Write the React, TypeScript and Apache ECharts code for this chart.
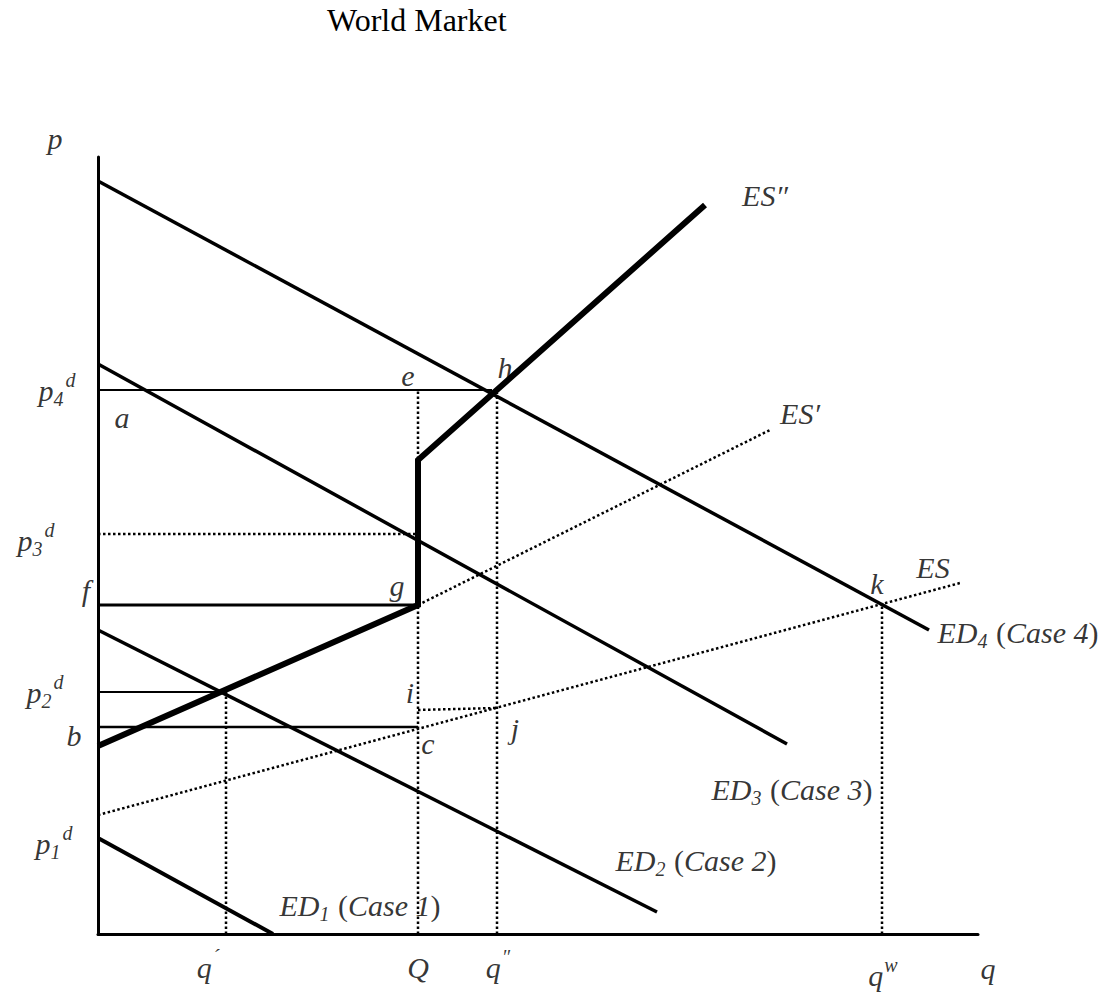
import React, { useEffect, useRef } from "react";
import * as echarts from "echarts";

// Coordinates: q to the right of the price axis, p above the quantity axis (diagram units)
const ed4 = [[0, 753], [831, 304]];
const ed3 = [[0, 570], [689, 190]];
const ed2 = [[0, 304], [559, 22]];
const ed1 = [[0, 96], [175, 0]];
const esDoublePrime = [[0, 188], [320, 329], [320, 474], [607, 729]];
const esPrime = [[320, 329], [672, 504]];
const es = [[0, 119], [862, 351]];

const lineP4 = [[0, 544], [394, 544]];
const lineP3 = [[0, 400], [320, 400]];
const lineF = [[0, 329], [320, 329]];
const lineP2 = [[0, 242], [128, 242]];
const lineB = [[0, 207], [320, 207]];
const lineI = [[320, 224], [399, 226]];

const dropQPrime = [[128, 0], [128, 242]];
const dropQ = [[320, 0], [320, 544]];
const dropQDouble = [[399, 0], [399, 541]];
const dropQW = [[784, 0], [784, 331]];

const labelTexts = [
  "{i|p}",
  "{i|p}{sub|4}{sup|d}",
  "{i|a}",
  "{i|p}{sub|3}{sup|d}",
  "{i|f}",
  "{i|p}{sub|2}{sup|d}",
  "{i|b}",
  "{i|p}{sub|1}{sup|d}",
  "{i|e}",
  "{i|h}",
  "{i|ES″}",
  "{i|ES′}",
  "{i|ES}",
  "{i|k}",
  "{i|g}",
  "{i|i}",
  "{i|c}",
  "{i|j}",
  "{i|ED}{sub|4}{n| (}{i|Case 4}{n|)}",
  "{i|ED}{sub|3}{n| (}{i|Case 3}{n|)}",
  "{i|ED}{sub|2}{n| (}{i|Case 2}{n|)}",
  "{i|ED}{sub|1}{n| (}{i|Case 1}{n|)}",
  "{i|q}{sup|´}",
  "{i|Q}",
  "{i|q}{sup|″}",
  "{i|q}{sup|w}",
  "{i|q}",
];
const labelX = [-43, -41, 24, -62, -12, -53, -24, -44, 310, 407, 667, 702, 835, 779, 299, 312, 330, 417, 920, 694, 598, 262, 110, 320, 400, 785, 890];
const labelY = [796, 544, 517, 394, 344, 242, 199, 91, 559, 567, 739, 521, 367, 351, 349, 242, 191, 206, 302, 145, 74, 29, -33, -33, -33, -41, -34];

const App: React.FC = () => {
  const ref = useRef<HTMLDivElement>(null);
  useEffect(() => {
    document.body.style.margin = "0";
    if (!ref.current) return;
    const chart = echarts.init(ref.current, null, { renderer: "svg" });
    const solid = (name: string, data: number[][], width: number) => ({
      name,
      type: "line",
      data,
      symbol: "none",
      silent: true,
      lineStyle: { color: "#000", width, type: "solid", cap: "butt", join: "miter" },
      z: 3,
    });
    const dotted = (name: string, data: number[][], width: number) => ({
      name,
      type: "line",
      data,
      symbol: "none",
      silent: true,
      lineStyle: { color: "#000", width, type: [2.5, 2.5] },
      z: 2,
    });
    const fontFamily = "'Liberation Serif', 'Times New Roman', serif";
    chart.setOption({
      animation: false,
      title: {
        text: "World Market",
        left: 322,
        top: -1,
        textStyle: { fontFamily, fontSize: 32, fontWeight: "normal", color: "#000" },
      },
      grid: { left: 98, top: 157, width: 880, height: 777 },
      xAxis: {
        type: "value",
        min: 0,
        max: 880,
        axisLine: { show: true, lineStyle: { color: "#000", width: 3 } },
        axisTick: { show: false },
        axisLabel: { show: false },
        splitLine: { show: false },
      },
      yAxis: {
        type: "value",
        min: 0,
        max: 777,
        axisLine: { show: true, lineStyle: { color: "#000", width: 3 } },
        axisTick: { show: false },
        axisLabel: { show: false },
        splitLine: { show: false },
      },
      series: [
        solid("ED4", ed4, 3.5),
        solid("ED3", ed3, 3.5),
        solid("ED2", ed2, 3.5),
        solid("ED1", ed1, 4),
        solid("ES''", esDoublePrime, 6),
        dotted("ES'", esPrime, 2.5),
        dotted("ES", es, 2.5),
        solid("p4", lineP4, 2),
        dotted("p3", lineP3, 2.5),
        solid("f", lineF, 3),
        solid("p2", lineP2, 2),
        solid("b", lineB, 2.5),
        dotted("i", lineI, 2.5),
        dotted("q'", dropQPrime, 2.5),
        dotted("Q", dropQ, 2.5),
        dotted("q''", dropQDouble, 2.5),
        dotted("qw", dropQW, 2.5),
        {
          name: "labels",
          type: "scatter",
          clip: false,
          silent: true,
          symbolSize: 1,
          itemStyle: { color: "rgba(0,0,0,0)" },
          z: 5,
          data: labelTexts.map((t, k) => ({
            value: [labelX[k], labelY[k]],
            label: { formatter: t },
          })),
          label: {
            show: true,
            position: "inside",
            color: "#000",
            fontFamily,
            fontSize: 30,
            rich: {
              i: { fontFamily, fontStyle: "italic", fontSize: 30, color: "#000" },
              n: { fontFamily, fontStyle: "normal", fontSize: 30, color: "#000" },
              sub: { fontFamily, fontStyle: "italic", fontSize: 20, color: "#000", padding: [18, 1, 0, 0] },
              sup: { fontFamily, fontStyle: "italic", fontSize: 20, color: "#000", padding: [0, 0, 20, 1] },
            },
          },
        },
      ],
    });
    return () => chart.dispose();
  }, []);
  return <div ref={ref} style={{ width: 1106, height: 993 }} />;
};

export default App;
